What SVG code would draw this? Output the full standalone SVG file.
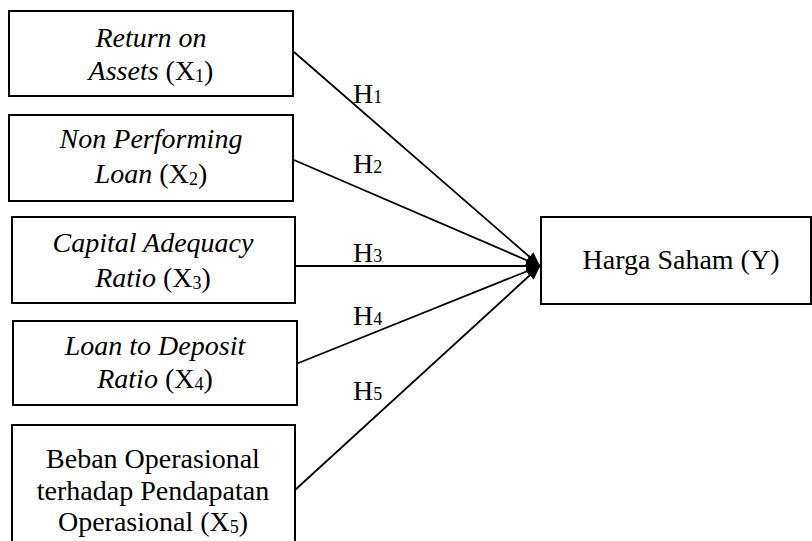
<svg xmlns="http://www.w3.org/2000/svg" width="812" height="541" viewBox="0 0 812 541">
<style>
.box{fill:#fff;stroke:#000;stroke-width:2}
text{font-family:"Liberation Serif","Times New Roman",serif;font-size:28px;fill:#000}
.c{text-anchor:middle}
.i{font-style:italic}
.s{font-size:18px}
.ln{stroke:#000;stroke-width:1.8;fill:none;marker-end:url(#ah)}
</style>
<defs>
<marker id="ah" markerWidth="14" markerHeight="12" viewBox="0 0 14 12" refX="14" refY="6" orient="auto" markerUnits="userSpaceOnUse">
<path d="M0,0 L14,6 L0,12 Z" fill="#000"/>
</marker>
</defs>
<rect width="812" height="541" fill="#fff"/>
<g id="connectors">
<line class="ln" x1="294" y1="52" x2="540" y2="266"/>
<line class="ln" x1="294" y1="160" x2="540" y2="266"/>
<line class="ln" x1="295" y1="266" x2="540" y2="266"/>
<line class="ln" x1="296" y1="364" x2="540" y2="266"/>
<line class="ln" x1="295" y1="490" x2="540" y2="266"/>
<text x="353" y="103">H<tspan class="s">1</tspan></text>
<text x="353" y="173">H<tspan class="s">2</tspan></text>
<text x="353" y="262">H<tspan class="s">3</tspan></text>
<text x="353" y="325">H<tspan class="s">4</tspan></text>
<text x="353" y="400">H<tspan class="s">5</tspan></text>
</g>
<g id="x1">
<rect class="box" x="9" y="11" width="284" height="85"/>
<text class="c" x="151" y="47"><tspan class="i">Return on</tspan></text>
<text class="c" x="151" y="80"><tspan class="i">Assets</tspan> (X<tspan class="s" dy="2">1</tspan><tspan dy="-2">)</tspan></text>
</g>
<g id="x2">
<rect class="box" x="9" y="115" width="284" height="86"/>
<text class="c" x="151" y="148"><tspan class="i">Non Performing</tspan></text>
<text class="c" x="151" y="183"><tspan class="i">Loan</tspan> (X<tspan class="s" dy="2">2</tspan><tspan dy="-2">)</tspan></text>
</g>
<g id="x3">
<rect class="box" x="12" y="217" width="283" height="86"/>
<text class="c" x="153" y="252"><tspan class="i">Capital Adequacy</tspan></text>
<text class="c" x="153" y="287"><tspan class="i">Ratio</tspan> (X<tspan class="s" dy="2">3</tspan><tspan dy="-2">)</tspan></text>
</g>
<g id="x4">
<rect class="box" x="13" y="321" width="284" height="84"/>
<text class="c" x="155" y="355"><tspan class="i">Loan to Deposit</tspan></text>
<text class="c" x="155" y="388"><tspan class="i">Ratio</tspan> (X<tspan class="s" dy="2">4</tspan><tspan dy="-2">)</tspan></text>
</g>
<g id="x5">
<rect class="box" x="12" y="425" width="283" height="125"/>
<text class="c" x="153" y="468">Beban Operasional</text>
<text class="c" x="153" y="500">terhadap Pendapatan</text>
<text class="c" x="153" y="531">Operasional (X<tspan class="s" dy="2">5</tspan><tspan dy="-2">)</tspan></text>
</g>
<g id="y">
<rect class="box" x="541" y="217" width="270" height="87"/>
<text class="c" x="681" y="269">Harga Saham (Y)</text>
</g>
</svg>
